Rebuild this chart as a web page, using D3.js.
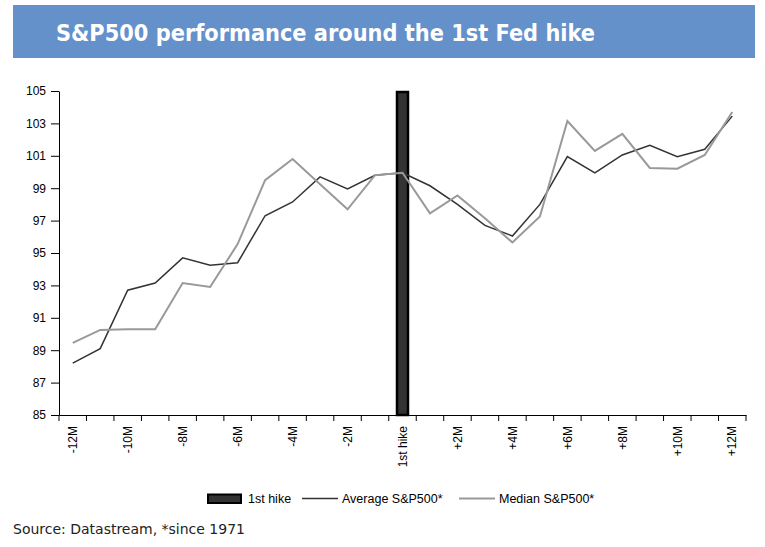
<!DOCTYPE html>
<html>
<head>
<meta charset="utf-8">
<script src="https://cdn.jsdelivr.net/npm/d3@7"></script>
<style>
  body { margin: 0; background: #fff; }
  svg { display: block; }
</style>
</head>
<body>
<div id="chart"></div>
<script>
// months around the first hike
const months = ["-12M","-11M","-10M","-9M","-8M","-7M","-6M","-5M","-4M","-3M","-2M","-1M","1st hike",
                "+1M","+2M","+3M","+4M","+5M","+6M","+7M","+8M","+9M","+10M","+11M","+12M"];
const average = [88.2, 89.1, 92.7, 93.15, 94.7, 94.25, 94.4, 97.3, 98.15, 99.7, 98.95, 99.8, 99.95,
                 99.15, 98.0, 96.7, 96.05, 98.0, 100.95, 99.95, 101.05, 101.65, 100.95, 101.4, 103.45];
const median = [89.45, 90.25, 90.3, 90.3, 93.15, 92.9, 95.55, 99.5, 100.8, 99.25, 97.7, 99.8, 99.95,
                97.45, 98.55, 97.15, 95.65, 97.25, 103.15, 101.3, 102.35, 100.25, 100.2, 101.05, 103.7];
const hike = [{month: "1st hike", value: 105}];
const yTicks = [85, 87, 89, 91, 93, 95, 97, 99, 101, 103, 105];

const W = 765, H = 547;
const svg = d3.select("#chart").append("svg")
    .attr("width", W)
    .attr("height", H);

// title band
svg.append("rect")
    .attr("x", 13).attr("y", 5)
    .attr("width", 742).attr("height", 53)
    .attr("fill", "#6591cb");
svg.append("text")
    .attr("x", 56).attr("y", 41)
    .attr("fill", "#fff")
    .style("font-family", "'DejaVu Sans Condensed', 'DejaVu Sans', sans-serif")
    .style("font-weight", "bold")
    .style("font-size", "23px")
    .attr("textLength", 539)
    .attr("lengthAdjust", "spacingAndGlyphs")
    .text("S&P500 performance around the 1st Fed hike");

const x = d3.scaleBand()
    .domain(months)
    .range([59, 746]);

const y = d3.scaleLinear()
    .domain([85, 105])
    .range([415, 91]);

// 1st hike bar
svg.selectAll("rect.hike")
    .data(hike)
    .enter().append("rect")
    .attr("class", "hike")
    .attr("x", d => x(d.month) + x.bandwidth() / 2 - 5.5)
    .attr("y", d => y(d.value) + 1)
    .attr("width", 11)
    .attr("height", d => y(85) - y(d.value) - 1)
    .attr("fill", "#333")
    .attr("stroke", "#000")
    .attr("stroke-width", 2.5);

// axes
const yAxis = svg.append("g")
    .attr("transform", "translate(59,0)")
    .call(d3.axisLeft(y).tickValues(yTicks).tickSize(8).tickPadding(5).tickSizeOuter(0));

const xAxis = svg.append("g")
    .attr("transform", "translate(0,415)")
    .call(d3.axisBottom(x).tickSize(0).tickSizeOuter(0)
        .tickFormat((d, i) => i % 2 === 0 ? d : ""));

// ticks between categories
xAxis.selectAll(".tick line").remove();
xAxis.selectAll("line.sep")
    .data(d3.range(months.length + 1))
    .enter().append("line")
    .attr("class", "sep")
    .attr("x1", i => x.range()[0] + i * x.step())
    .attr("x2", i => x.range()[0] + i * x.step())
    .attr("y1", 0).attr("y2", 6)
    .attr("stroke", "#000");

xAxis.selectAll(".tick text")
    .attr("transform", "rotate(-90)")
    .attr("x", -11)
    .attr("y", 0)
    .attr("dy", "0.35em")
    .style("text-anchor", "end");

[yAxis, xAxis].forEach(g => {
    g.selectAll("text")
        .style("font-family", "'Liberation Sans', Arial, sans-serif")
        .style("font-size", "12px")
        .attr("fill", "#000");
    g.select(".domain").attr("stroke", "#000");
    g.selectAll(".tick line").attr("stroke", "#000");
});

// lines
const line = d3.line()
    .x((d, i) => x(months[i]) + x.bandwidth() / 2)
    .y(d => y(d));

svg.append("path")
    .datum(average)
    .attr("fill", "none")
    .attr("stroke", "#333")
    .attr("stroke-width", 1.5)
    .attr("d", line);

svg.append("path")
    .datum(median)
    .attr("fill", "none")
    .attr("stroke", "#999")
    .attr("stroke-width", 2)
    .attr("d", line);

// legend
const legend = svg.append("g")
    .style("font-family", "'Liberation Sans', Arial, sans-serif")
    .style("font-size", "12.5px");

legend.append("rect")
    .attr("x", 208).attr("y", 494.5)
    .attr("width", 33).attr("height", 8.5)
    .attr("fill", "#333")
    .attr("stroke", "#000")
    .attr("stroke-width", 2);
legend.append("text").attr("x", 248).attr("y", 502.5).text("1st hike");

legend.append("line")
    .attr("x1", 302).attr("x2", 338)
    .attr("y1", 498.5).attr("y2", 498.5)
    .attr("stroke", "#333").attr("stroke-width", 1.5);
legend.append("text").attr("x", 342).attr("y", 502.5).text("Average S&P500*");

legend.append("line")
    .attr("x1", 459).attr("x2", 495)
    .attr("y1", 498.5).attr("y2", 498.5)
    .attr("stroke", "#999").attr("stroke-width", 2);
legend.append("text").attr("x", 499).attr("y", 502.5).text("Median S&P500*");

// source note
svg.append("text")
    .attr("x", 13).attr("y", 534)
    .attr("fill", "#222")
    .style("font-family", "'DejaVu Sans Condensed', 'DejaVu Sans', sans-serif")
    .style("font-size", "14px")
    .attr("textLength", 232)
    .attr("lengthAdjust", "spacingAndGlyphs")
    .text("Source: Datastream, *since 1971");
</script>
</body>
</html>
